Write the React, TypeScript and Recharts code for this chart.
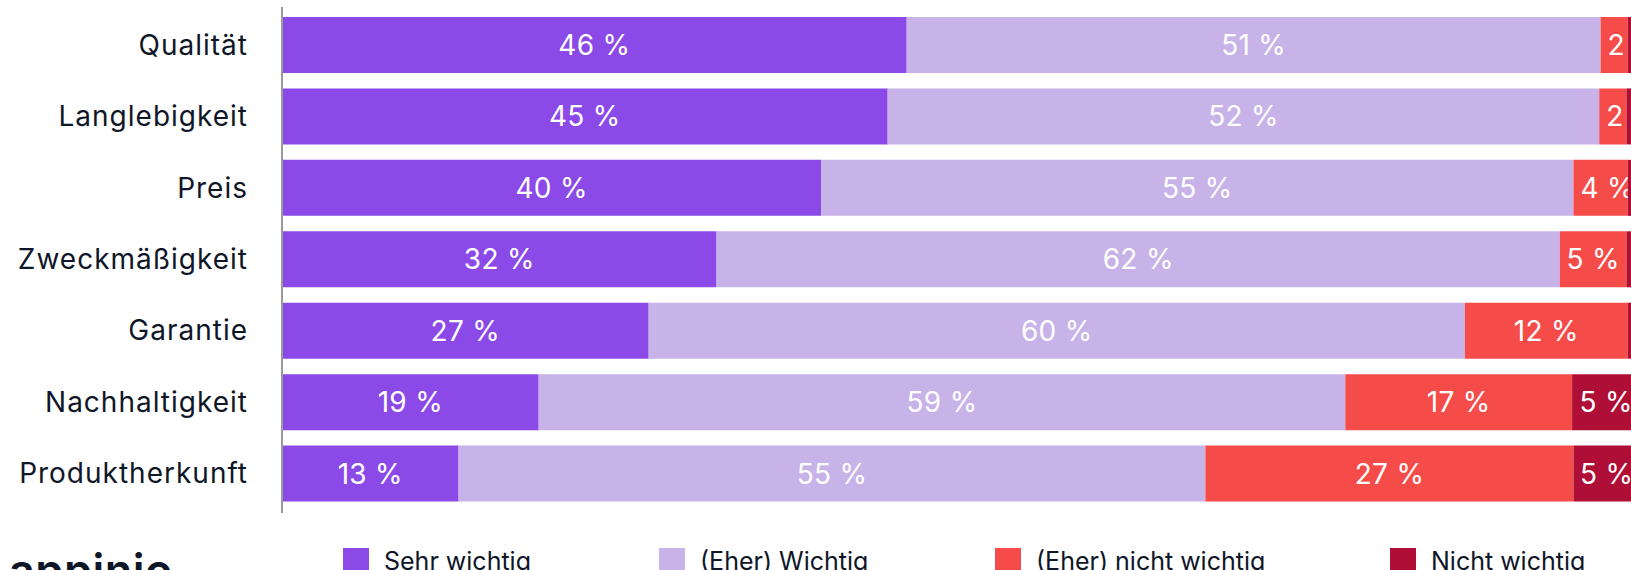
import React from 'react';
import { BarChart, Bar, XAxis, YAxis, Legend, LabelList } from 'recharts';

const categories = ['Qualität', 'Langlebigkeit', 'Preis', 'Zweckmäßigkeit', 'Garantie', 'Nachhaltigkeit', 'Produktherkunft'];
const sehrWichtig = [46, 44.6, 39.7, 32, 27, 18.9, 13];
const eherWichtig = [51.1, 52.4, 55.4, 62.1, 60.1, 59.4, 55];
const eherNichtWichtig = [2, 2, 4, 4.9, 12, 16.7, 27.1];
const nichtWichtig = [0.9, 1, 0.9, 1, 0.9, 5, 4.9];

const seriesNames = ['Sehr wichtig', '(Eher) Wichtig', '(Eher) nicht wichtig', 'Nicht wichtig'];
const seriesColors = ['#8B4AE8', '#C8B3E8', '#F54C4A', '#AF0E37'];

const data = categories.map((name, i) => ({
  name,
  s0: sehrWichtig[i],
  s1: eherWichtig[i],
  s2: eherNichtWichtig[i],
  s3: nichtWichtig[i],
}));

const FONT = 'Inter, "Noto Sans", sans-serif';
const TEXT_COLOR = '#0F1628';
const LABEL_SIZE = 28;
const LEGEND_ITEM_WIDTHS = [316, 336, 395, 240];

function textWidth(t: string, size: number) {
  let w = 0;
  for (const ch of t) {
    if (ch === ' ') w += 0.27;
    else if (ch === '%') w += 0.85;
    else w += 0.62;
  }
  return w * size;
}

const makeLabel = (key: string) => (props: any) => {
  const { x, y, width, height, value, index } = props;
  if (value == null || width < 20) return null;
  const text = `${Math.round(Number(value))} %`;
  const tw = textWidth(text, LABEL_SIZE);
  const pad = 7;
  const fits = width >= tw + pad * 2;
  const tx = fits ? x + width / 2 : x + pad;
  const id = `clip-${key}-${index}`;
  return (
    <g>
      <defs>
        <clipPath id={id}>
          <rect x={x} y={y} width={width} height={height} />
        </clipPath>
      </defs>
      <text
        x={tx}
        y={y + height / 2}
        clipPath={`url(#${id})`}
        textAnchor={fits ? 'middle' : 'start'}
        dominantBaseline="central"
        fill="#FFFFFF"
        fontFamily={FONT}
        fontSize={LABEL_SIZE}
        letterSpacing={0.3}
      >
        {text}
      </text>
    </g>
  );
};

const LegendContent = (props: any) => {
  const payload = [...(props.payload || [])].sort(
    (a: any, b: any) => seriesNames.indexOf(a.value) - seriesNames.indexOf(b.value)
  );
  return (
    <div style={{ display: 'flex', alignItems: 'center', height: 30 }}>
      {payload.map((p: any, i: number) => (
        <div
          key={i}
          style={{
            display: 'flex',
            alignItems: 'center',
            width: LEGEND_ITEM_WIDTHS[i] ?? 240,
            flex: 'none',
          }}
        >
          <div style={{ width: 26, height: 26, background: p.color, flex: 'none' }} />
          <span
            style={{
              marginLeft: 15,
              fontFamily: FONT,
              fontSize: 25,
              color: TEXT_COLOR,
              whiteSpace: 'nowrap',
              lineHeight: '26px',
            }}
          >
            {p.value}
          </span>
        </div>
      ))}
    </div>
  );
};

export default function App() {
  const keys = ['s0', 's1', 's2', 's3'];
  return (
    <div
      style={{
        position: 'fixed',
        left: 0,
        top: 0,
        width: 1631,
        height: 570,
        overflow: 'hidden',
        background: '#FFFFFF',
      }}
    >
      <BarChart
        width={1640}
        height={570}
        data={data}
        layout="vertical"
        margin={{ top: 7, right: 0, bottom: 27, left: 0 }}
        barSize={56}
      >
        <XAxis type="number" domain={[0, 100]} hide />
        <YAxis
          type="category"
          dataKey="name"
          width={282}
          padding={{ top: 2, bottom: 4 }}
          axisLine={{ stroke: '#9A9A9A', strokeWidth: 2 }}
          tickLine={false}
          tickMargin={28}
          tick={{ fill: TEXT_COLOR, fontSize: 28, fontFamily: FONT, letterSpacing: 1 }}
          interval={0}
        />
        <Legend
          content={<LegendContent />}
          verticalAlign="bottom"
          wrapperStyle={{ top: 546, left: 343, width: 1290, height: 30 }}
        />
        {keys.map((k, i) => (
          <Bar
            key={k}
            dataKey={k}
            name={seriesNames[i]}
            stackId="a"
            fill={seriesColors[i]}
            isAnimationActive={false}
          >
            <LabelList dataKey={k} content={makeLabel(k)} />
          </Bar>
        ))}
      </BarChart>
      <div
        style={{
          position: 'absolute',
          left: 9,
          top: 549,
          fontFamily: FONT,
          fontWeight: 600,
          fontSize: 45,
          lineHeight: '44px',
          color: TEXT_COLOR,
          letterSpacing: 0.5,
        }}
      >
        appinio
      </div>
    </div>
  );
}
